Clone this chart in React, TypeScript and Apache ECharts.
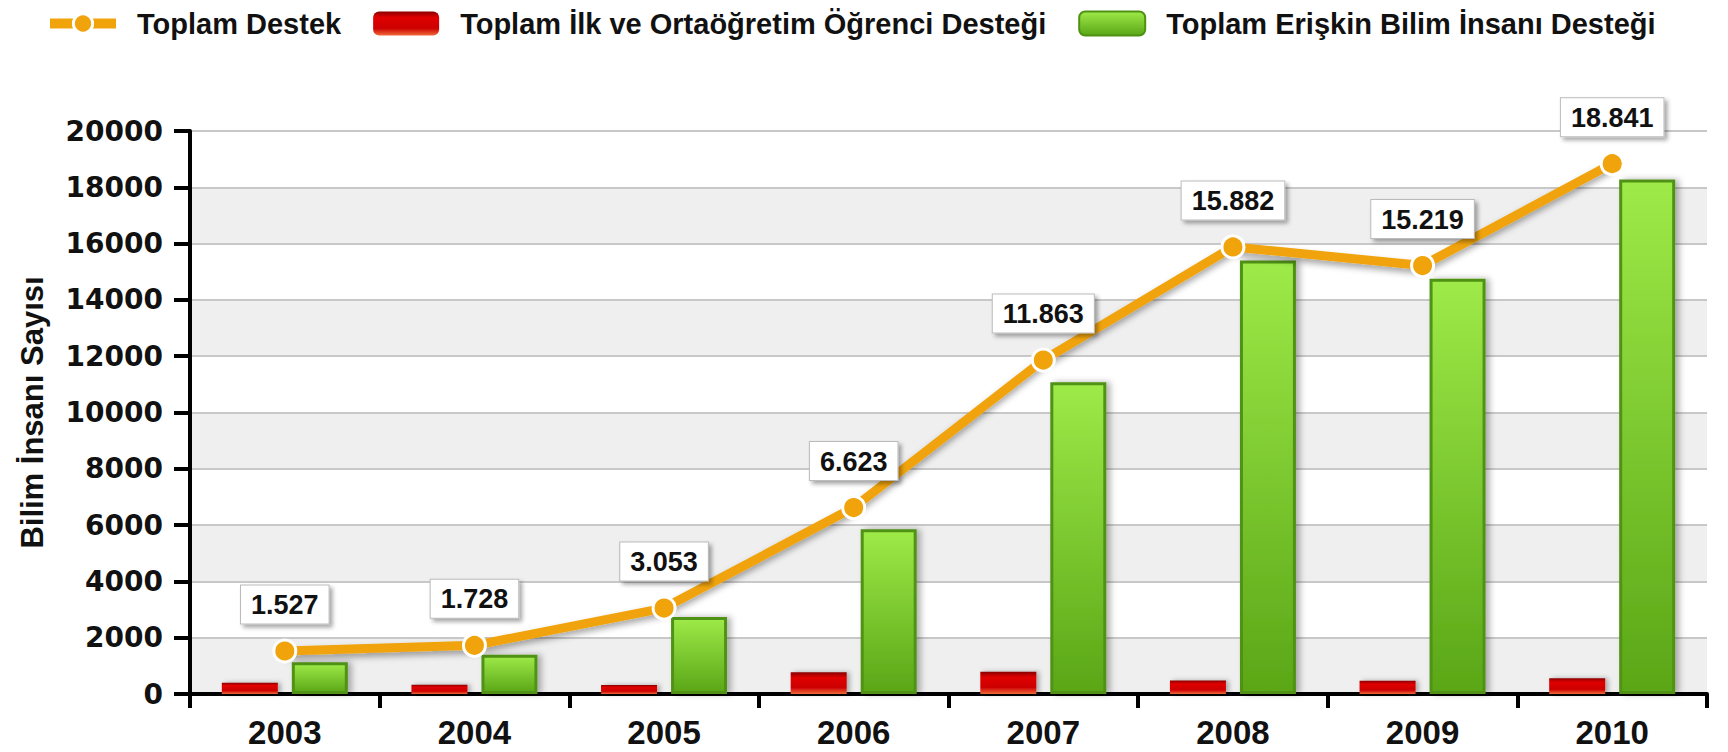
import React, { useEffect, useRef } from "react";
import * as echarts from "echarts";

const years = ["2003", "2004", "2005", "2006", "2007", "2008", "2009", "2010"];
const totalSupport = [1527, 1728, 3053, 6623, 11863, 15882, 15219, 18841];
const studentSupport = [400, 330, 320, 770, 790, 480, 470, 560];
const adultSupport = [1127, 1398, 2733, 5853, 11073, 15402, 14749, 18281];
const seriesNames = [
  "Toplam Destek",
  "Toplam İlk ve Ortaöğretim Öğrenci Desteği",
  "Toplam Erişkin Bilim İnsanı Desteği",
];
const yAxisName = "Bilim İnsanı Sayısı";

const fmt = (v: number) => {
  const s = String(v);
  return s.length > 3 ? s.slice(0, -3) + "." + s.slice(-3) : s;
};

export default function App() {
  const ref = useRef<HTMLDivElement>(null);
  useEffect(() => {
    document.body.style.margin = "0";
    const chart = echarts.init(ref.current!, null, { renderer: "svg" });
    const font = "'Liberation Sans', Arial, sans-serif";
    const redGrad = new echarts.graphic.LinearGradient(0, 0, 0, 1, [
      { offset: 0, color: "#8a0000" },
      { offset: 0.25, color: "#e00000" },
      { offset: 0.7, color: "#cc0000" },
      { offset: 1, color: "#f06a3a" },
    ]);
    const greenGrad = new echarts.graphic.LinearGradient(0, 0, 0, 1, [
      { offset: 0, color: "#9eea48" },
      { offset: 1, color: "#5aa617" },
    ]);
    chart.setOption({
      animation: false,
      backgroundColor: "#ffffff",
      textStyle: { fontFamily: font },
      legend: {
        left: 40,
        top: 4,
        itemWidth: 66,
        itemHeight: 24,
        itemGap: 32,
        textStyle: {
          fontFamily: font,
          fontWeight: "bold",
          fontSize: 29,
          color: "#111",
          padding: [0, 0, 0, 16],
        },
        data: [
          {
            name: seriesNames[0],
            itemStyle: { color: "#f0a30a", borderColor: "#fff", borderWidth: 3 },
            lineStyle: { color: "#f0a30a", width: 10 },
          },
          { name: seriesNames[1] },
          { name: seriesNames[2] },
        ],
      },
      grid: { left: 190, right: 21, top: 131, bottom: 58 },
      xAxis: {
        type: "category",
        data: years,
        boundaryGap: true,
        axisLine: { lineStyle: { color: "#000", width: 4 } },
        axisTick: { show: true, length: 14, lineStyle: { color: "#000", width: 4 } },
        axisLabel: {
          fontFamily: font,
          fontWeight: "bold",
          fontSize: 33,
          color: "#111",
          margin: 22,
        },
      },
      yAxis: {
        type: "value",
        min: 0,
        max: 20000,
        interval: 2000,
        name: yAxisName,
        nameLocation: "middle",
        nameGap: 142,
        nameTextStyle: {
          fontFamily: font,
          fontWeight: "bold",
          fontSize: 31,
          color: "#111",
        },
        axisLine: { show: true, lineStyle: { color: "#000", width: 4 } },
        axisTick: { show: true, length: 16, lineStyle: { color: "#000", width: 4 } },
        axisLabel: {
          fontFamily: "'DejaVu Sans', sans-serif",
          fontWeight: "bold",
          fontSize: 28,
          color: "#111",
          margin: 27,
          formatter: (v: number) => String(v),
        },
        splitLine: { show: true, lineStyle: { color: "#c8c8c8", width: 2 } },
        splitArea: { show: true, areaStyle: { color: ["#efefef", "#ffffff"] } },
      },
      series: [
        {
          name: seriesNames[1],
          type: "bar",
          data: studentSupport,
          barWidth: 56,
          barGap: "25%",
          itemStyle: {
            color: redGrad,
            shadowColor: "rgba(0,0,0,0.3)",
            shadowBlur: 5,
            shadowOffsetX: 3,
          },
          z: 2,
        },
        {
          name: seriesNames[2],
          type: "bar",
          data: adultSupport,
          barWidth: 56,
          itemStyle: {
            color: greenGrad,
            borderColor: "#4f9212",
            borderWidth: 3,
            shadowColor: "rgba(0,0,0,0.3)",
            shadowBlur: 6,
            shadowOffsetX: 4,
          },
          z: 2,
        },
        {
          name: seriesNames[0],
          type: "line",
          data: totalSupport,
          symbol: "circle",
          symbolSize: 22,
          z: 5,
          itemStyle: { color: "#f0a30a", borderColor: "#ffffff", borderWidth: 3 },
          lineStyle: {
            color: "#f0a30a",
            width: 9,
            shadowColor: "rgba(0,0,0,0.35)",
            shadowBlur: 6,
            shadowOffsetY: 4,
          },
          label: {
            show: true,
            position: "top",
            distance: 15,
            formatter: (p: any) => fmt(p.value),
            fontFamily: font,
            fontWeight: "bold",
            fontSize: 27,
            color: "#111",
            backgroundColor: "#ffffff",
            borderColor: "#bbbbbb",
            borderWidth: 1,
            padding: [6, 10, 5, 10],
            shadowColor: "rgba(0,0,0,0.35)",
            shadowBlur: 4,
            shadowOffsetX: 3,
            shadowOffsetY: 3,
          },
        },
      ],
    });
    return () => chart.dispose();
  }, []);
  return <div ref={ref} style={{ width: 1728, height: 752 }} />;
}
